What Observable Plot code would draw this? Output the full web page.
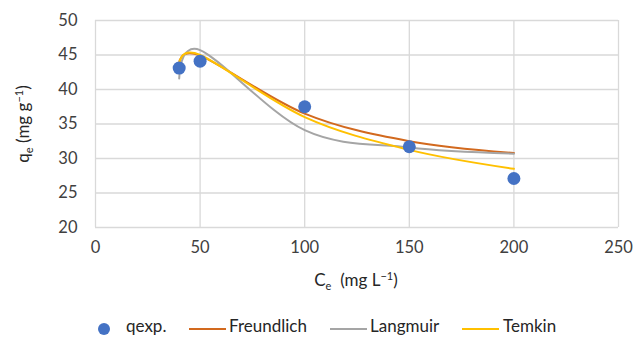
<!DOCTYPE html>
<html>
<head>
<meta charset="utf-8">
<script src="https://cdn.jsdelivr.net/npm/d3@7"></script>
<script src="https://cdn.jsdelivr.net/npm/@observablehq/plot@0.6"></script>
<style>
  body { margin: 0; background: #fff; font-family: Lato, "Open Sans", sans-serif; }
  #chart { position: relative; width: 634px; height: 338px; overflow: hidden; }
  #chart svg { position: absolute; left: 0; top: 0; }
  .lg { position: absolute; font-size: 17px; color: #262626; line-height: 1; }
  .sw { position: absolute; }
</style>
</head>
<body>
<div id="chart"></div>
<script>
// Data
const ce = [40, 50, 100, 150, 200];
const qexp = [43.1, 44.1, 37.5, 31.7, 27.1];
const freundlich = [43.7, 44.9, 36.5, 32.5, 30.8];
const langmuir = [41.6, 45.7, 34.1, 31.6, 30.7];
const temkin = [43.6, 45.0, 36.0, 31.25, 28.5];
const xTicks = [0, 50, 100, 150, 200, 250];
const yTicks = [20, 25, 30, 35, 40, 45, 50];

const colors = {
  qexp: "#4472C4",
  Freundlich: "#D2691E",
  Langmuir: "#A5A5A5",
  Temkin: "#FFC000"
};

const pts = ce.map((c, i) => ({c, q: qexp[i]}));
const fr = ce.map((c, i) => ({c, q: freundlich[i]}));
const la = ce.map((c, i) => ({c, q: langmuir[i]}));
const te = ce.map((c, i) => ({c, q: temkin[i]}));

const W = 634, H = 300;
const plot = Plot.plot({
  width: W,
  height: H,
  marginLeft: 95,
  marginRight: 16,
  marginTop: 20,
  marginBottom: H - 227,
  style: { fontFamily: "Lato, 'Open Sans', sans-serif", fontSize: "16.5px", color: "#404040", background: "transparent" },
  x: { domain: [0, 250], ticks: xTicks, label: null, tickSize: 0, tickPadding: 14 },
  y: { domain: [20, 50], ticks: yTicks, label: null, tickSize: 0, tickPadding: 18 },
  marks: [
    Plot.ruleX(xTicks, { stroke: "#D9D9D9", strokeWidth: 1.3 }),
    Plot.ruleY(yTicks, { stroke: "#D9D9D9", strokeWidth: 1.3 }),
    Plot.line(fr, { x: "c", y: "q", curve: "cardinal", stroke: colors.Freundlich, strokeWidth: 2 }),
    Plot.line(la, { x: "c", y: "q", curve: "cardinal", stroke: colors.Langmuir, strokeWidth: 2 }),
    Plot.line(te, { x: "c", y: "q", curve: "cardinal", stroke: colors.Temkin, strokeWidth: 2 }),
    Plot.dot(pts, { x: "c", y: "q", r: 6.5, fill: colors.qexp, stroke: "none" })
  ]
});

const chart = document.getElementById("chart");
chart.appendChild(plot);

// Axis titles with sub/superscripts
const svg = d3.select(plot);
const xl = svg.append("text")
  .attr("x", 356).attr("y", 286)
  .attr("text-anchor", "middle")
  .attr("fill", "#262626")
  .style("font-size", "17px");
xl.append("tspan").text("C");
xl.append("tspan").attr("dy", 4).style("font-size", "11px").text("e");
xl.append("tspan").attr("dy", -4).text("\u00a0 (mg L");
xl.append("tspan").attr("dy", -6).style("font-size", "11px").text("\u22121");
xl.append("tspan").attr("dy", 6).text(")");

const yl = svg.append("text")
  .attr("transform", "translate(29,124) rotate(-90)")
  .attr("text-anchor", "middle")
  .attr("fill", "#262626")
  .style("font-size", "17px");
yl.append("tspan").text("q");
yl.append("tspan").attr("dy", 4).style("font-size", "11px").text("e");
yl.append("tspan").attr("dy", -4).text(" (mg g");
yl.append("tspan").attr("dy", -6).style("font-size", "11px").text("\u22121");
yl.append("tspan").attr("dy", 6).text(")");

// Legend (HTML, below the SVG)
const legendItems = [
  { name: "qexp.", type: "dot", color: colors.qexp, sx: 98, tx: 126 },
  { name: "Freundlich", type: "line", color: colors.Freundlich, sx: 189, tx: 229 },
  { name: "Langmuir", type: "line", color: colors.Langmuir, sx: 330, tx: 370 },
  { name: "Temkin", type: "line", color: colors.Temkin, sx: 462, tx: 503 }
];
legendItems.forEach(it => {
  const sw = document.createElement("div");
  sw.className = "sw";
  if (it.type === "dot") {
    sw.style.cssText = `left:${it.sx}px;top:323px;width:12px;height:12px;border-radius:50%;background:${it.color};`;
  } else {
    sw.style.cssText = `left:${it.sx}px;top:328px;width:37px;height:2px;background:${it.color};`;
  }
  chart.appendChild(sw);
  const t = document.createElement("div");
  t.className = "lg";
  t.style.left = it.tx + "px";
  t.style.top = "317px";
  t.textContent = it.name;
  chart.appendChild(t);
});
</script>
</body>
</html>
